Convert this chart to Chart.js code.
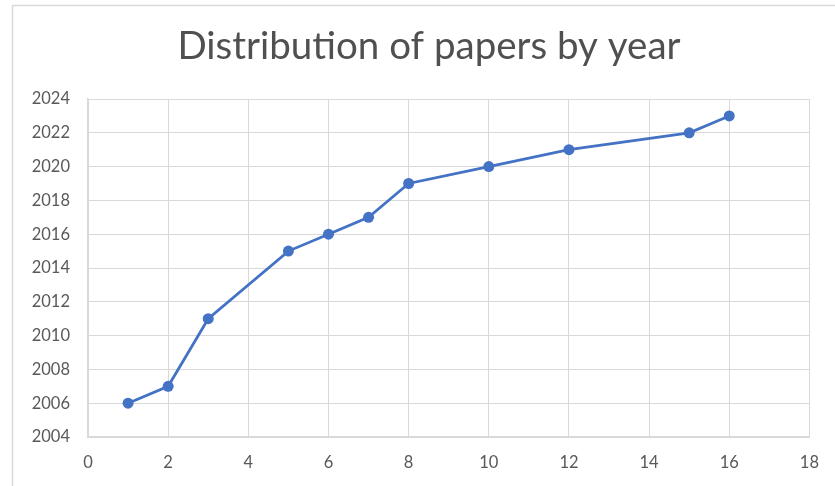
<!DOCTYPE html>
<html>
<head>
<meta charset="utf-8">
<script src="https://cdn.jsdelivr.net/npm/chart.js@4/dist/chart.umd.min.js"></script>
<style>
  html, body { margin: 0; padding: 0; background: #ffffff; }
  #wrap { position: relative; width: 835px; height: 486px; }
</style>
</head>
<body>
<div id="wrap"><canvas id="chart" width="835" height="486"></canvas></div>
<script>
// Publication years against paper index
const paperIndex = [1, 2, 3, 5, 6, 7, 8, 10, 12, 15, 16];
const pubYear = [2006, 2007, 2011, 2015, 2016, 2017, 2019, 2020, 2021, 2022, 2023];
const chartTitle = 'Distribution of papers by year';
const xRange = { min: 0, max: 18, step: 2 };
const yRange = { min: 2004, max: 2024, step: 2 };

const FONT = 'Lato, "Open Sans", sans-serif';
const GRID = '#d9d9d9';
const TEXT = '#595959';
const SERIES = '#4472c4';

const points = paperIndex.map((x, i) => ({ x: x, y: pubYear[i] }));

// Frame around the chart and the heading above the plot
const framePlugin = {
  id: 'frame',
  beforeDraw(chart) {
    const ctx = chart.ctx;
    ctx.save();
    ctx.fillStyle = '#ffffff';
    ctx.fillRect(0, 0, chart.width, chart.height);
    ctx.strokeStyle = '#d9d9d9';
    ctx.lineWidth = 1.5;
    ctx.beginPath();
    ctx.moveTo(12.5, chart.height);
    ctx.lineTo(12.5, 5.5);
    ctx.lineTo(chart.width, 5.5);
    ctx.stroke();
    ctx.fillStyle = '#505050';
    ctx.font = '38.5px ' + FONT;
    ctx.textAlign = 'center';
    ctx.textBaseline = 'middle';
    ctx.fillText(chartTitle, 429, 47);
    ctx.restore();
  }
};

const plain = v => String(v);

new Chart(document.getElementById('chart'), {
  type: 'scatter',
  data: {
    datasets: [{
      data: points,
      showLine: true,
      borderColor: SERIES,
      backgroundColor: SERIES,
      borderWidth: 2.75,
      pointRadius: 5.5,
      pointBorderWidth: 0,
      pointBackgroundColor: SERIES,
      tension: 0
    }]
  },
  options: {
    responsive: false,
    animation: false,
    layout: { padding: { top: 99, right: 25, bottom: 0, left: 0 } },
    plugins: {
      legend: { display: false },
      title: { display: false },
      tooltip: { enabled: false }
    },
    scales: {
      x: {
        type: 'linear',
        min: xRange.min,
        max: xRange.max,
        ticks: { stepSize: xRange.step, color: TEXT, font: { family: FONT, size: 16.5 }, padding: 16, callback: plain },
        grid: { color: GRID, lineWidth: 1, drawTicks: false },
        border: { color: GRID, width: 1.5 },
        afterFit(scale) { scale.height = 49; }
      },
      y: {
        type: 'linear',
        min: yRange.min,
        max: yRange.max,
        ticks: { stepSize: yRange.step, color: TEXT, font: { family: FONT, size: 16.5 }, padding: 18, callback: plain },
        grid: { color: GRID, lineWidth: 1, drawTicks: false },
        border: { color: GRID, width: 1.5 },
        afterFit(scale) { scale.width = 88; }
      }
    }
  },
  plugins: [framePlugin]
});
</script>
</body>
</html>
